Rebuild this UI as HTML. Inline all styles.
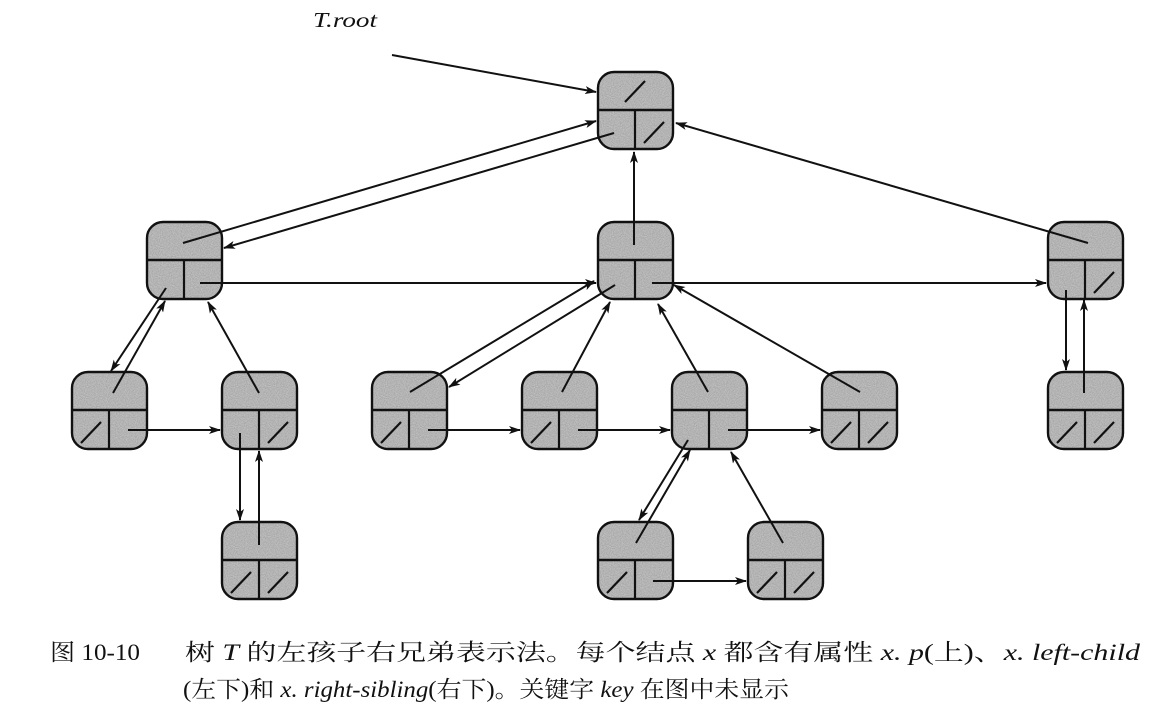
<!DOCTYPE html>
<html><head><meta charset="utf-8"><style>
html,body{margin:0;padding:0;background:#fff;}
svg{display:block;}
.cap{font-family:"Liberation Serif","Noto Serif CJK SC","Noto Sans CJK SC",serif;font-size:23px;fill:#111;}
.it{font-style:italic;}
</style></head><body>
<svg width="1151" height="712" viewBox="0 0 1151 712" xmlns="http://www.w3.org/2000/svg">
<defs>
<marker id="a" markerWidth="12" markerHeight="8" refX="11" refY="4" orient="auto" markerUnits="userSpaceOnUse">
<path d="M0,0 L12,4 L0,8 L3,4 Z" fill="#111"/></marker>
<filter id="n" x="0" y="0" width="100%" height="100%">
<feTurbulence type="fractalNoise" baseFrequency="0.9" numOctaves="2" seed="3" result="t"/>
<feColorMatrix in="t" type="matrix" values="0 0 0 0 0.55  0 0 0 0 0.55  0 0 0 0 0.55  0 0 0 -1.6 1.3" result="c"/>
<feComposite in="c" in2="SourceGraphic" operator="in"/>
</filter>
<g id="node">
<rect x="0" y="0" width="75" height="77" rx="16" fill="#a3a3a3"/>
<rect x="0" y="0" width="75" height="77" rx="16" fill="#a3a3a3" filter="url(#n)"/>
<rect x="0" y="0" width="75" height="77" rx="16" fill="none" stroke="#111" stroke-width="2.4"/>
<line x1="0" y1="38" x2="75" y2="38" stroke="#111" stroke-width="2.4"/>
<line x1="37" y1="38" x2="37" y2="77" stroke="#111" stroke-width="2.2"/>
</g>
</defs>

<g>
<use href="#node" x="598" y="72"/>
<use href="#node" x="147" y="222"/>
<use href="#node" x="598" y="222"/>
<use href="#node" x="1048" y="222"/>
<use href="#node" x="72" y="372"/>
<use href="#node" x="222" y="372"/>
<use href="#node" x="372" y="372"/>
<use href="#node" x="522" y="372"/>
<use href="#node" x="672" y="372"/>
<use href="#node" x="822" y="372"/>
<use href="#node" x="1048" y="372"/>
<use href="#node" x="222" y="522"/>
<use href="#node" x="598" y="522"/>
<use href="#node" x="748" y="522"/>
</g>

<g stroke="#111" stroke-width="2.2">
<line x1="625" y1="102" x2="645" y2="81"/>
<line x1="644" y1="143" x2="664" y2="122"/>
<line x1="1094" y1="293" x2="1114" y2="272"/>
<line x1="268" y1="443" x2="288" y2="422"/>
<line x1="868" y1="443" x2="888" y2="422"/>
<line x1="1094" y1="443" x2="1114" y2="422"/>
<line x1="268" y1="593" x2="288" y2="572"/>
<line x1="794" y1="593" x2="814" y2="572"/>
<line x1="81" y1="443" x2="101" y2="422"/>
<line x1="381" y1="443" x2="401" y2="422"/>
<line x1="531" y1="443" x2="551" y2="422"/>
<line x1="831" y1="443" x2="851" y2="422"/>
<line x1="1057" y1="443" x2="1077" y2="422"/>
<line x1="231" y1="593" x2="251" y2="572"/>
<line x1="607" y1="593" x2="627" y2="572"/>
<line x1="757" y1="593" x2="777" y2="572"/>
</g>

<g stroke="#111" stroke-width="2" fill="none" marker-end="url(#a)">
<line x1="392" y1="55" x2="596" y2="92"/>
<line x1="183" y1="243" x2="596" y2="121"/>
<line x1="614" y1="133" x2="224" y2="248"/>
<line x1="634" y1="245" x2="634" y2="152"/>
<line x1="1088" y1="243" x2="676" y2="123"/>
<line x1="200" y1="283" x2="596" y2="283"/>
<line x1="652" y1="283" x2="1046" y2="283"/>
<line x1="166" y1="288" x2="111" y2="371"/>
<line x1="113" y1="393" x2="165" y2="301"/>
<line x1="259" y1="393" x2="208" y2="302"/>
<line x1="128" y1="430" x2="220" y2="430"/>
<line x1="240" y1="433" x2="240" y2="520"/>
<line x1="259" y1="545" x2="259" y2="451"/>
<line x1="615" y1="285" x2="449" y2="387"/>
<line x1="410" y1="392" x2="594" y2="281"/>
<line x1="562" y1="392" x2="610" y2="302"/>
<line x1="708" y1="392" x2="658" y2="304"/>
<line x1="860" y1="392" x2="674" y2="285"/>
<line x1="428" y1="430" x2="520" y2="430"/>
<line x1="578" y1="430" x2="670" y2="430"/>
<line x1="728" y1="430" x2="820" y2="430"/>
<line x1="688" y1="440" x2="639" y2="520"/>
<line x1="636" y1="543" x2="690" y2="450"/>
<line x1="783" y1="543" x2="731" y2="452"/>
<line x1="653" y1="581" x2="746" y2="581"/>
<line x1="1066" y1="290" x2="1066" y2="370"/>
<line x1="1084" y1="393" x2="1084" y2="300"/>
</g>

<text x="313" y="27" font-family="Liberation Serif,serif" font-style="italic" font-size="21" fill="#111" textLength="64" lengthAdjust="spacingAndGlyphs">T.root</text>

<text class="cap" x="50" y="660" textLength="90" lengthAdjust="spacingAndGlyphs">图 10-10</text>
<text class="cap" x="185" y="660" textLength="955" lengthAdjust="spacingAndGlyphs">树 <tspan class="it">T</tspan> 的左孩子右兄弟表示法。每个结点 <tspan class="it">x</tspan> 都含有属性 <tspan class="it">x. p</tspan>(上)、<tspan class="it">x. left-child</tspan></text>
<text class="cap" x="183" y="697" textLength="606" lengthAdjust="spacingAndGlyphs">(左下)和 <tspan class="it">x. right-sibling</tspan>(右下)。关键字 <tspan class="it">key</tspan> 在图中未显示</text>
</svg>
</body></html>
